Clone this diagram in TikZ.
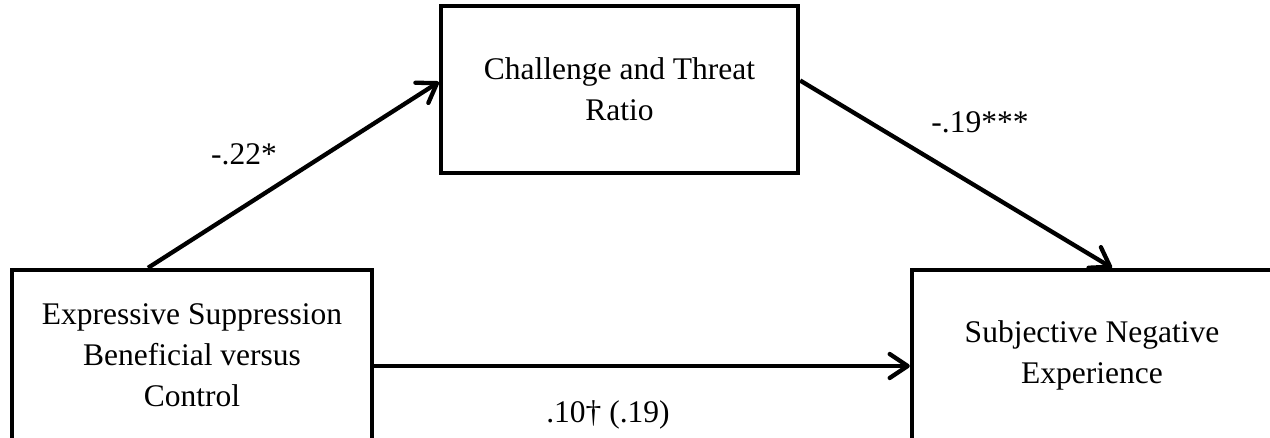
\documentclass[tikz,border=0pt]{standalone}
\usepackage{fontspec}
\setmainfont{Liberation Serif}
\usetikzlibrary{arrows.meta,calc,shadows}
\begin{document}
\begin{tikzpicture}[x=1pt,y=-1pt,
  box/.style={draw=black,line width=4.3pt,fill=white,align=center,inner sep=0pt,
    font=\fontsize{31.5}{41}\selectfont,
    drop shadow={shadow xshift=1.5pt,shadow yshift=-2.5pt,fill=black!15,opacity=1}},
  arr/.style={line width=4.3pt,-{Straight Barb[length=18pt,width=24pt,round]}},
  lbl/.style={anchor=base,inner sep=0pt,font=\fontsize{31.5}{41}\selectfont}]
\useasboundingbox (0,0) rectangle (1270,438);
\clip (0,0) rectangle (1270,438);
\fill[white] (0,0) rectangle (1270,438);
\node[box,minimum width=360pt,minimum height=170pt] (es) at (192,355)
  {Expressive Suppression\\Beneficial versus\\Control};
\node[box,minimum width=357pt,minimum height=167pt] (ct) at (619.5,89.5)
  {Challenge and Threat\\Ratio};
\node[box,minimum width=360pt,minimum height=170pt] (sne) at (1092,355)
  {Subjective Negative\\Experience};
\draw[arr] ([xshift=-44pt]es.north) -- ([yshift=7.5pt]ct.west);
\draw[arr] ([yshift=9pt]ct.east) -- ([xshift=20pt]sne.north);
\draw[arr] ([yshift=-11pt]es.east) -- ([yshift=-11pt]sne.west);
\node[lbl] (l1) at (244,165) {-.22*};
\node[lbl] (l2) at (980,133) {-.19***};
\node[lbl] (l3) at (608,423) {.10† (.19)};
\end{tikzpicture}
\end{document}
